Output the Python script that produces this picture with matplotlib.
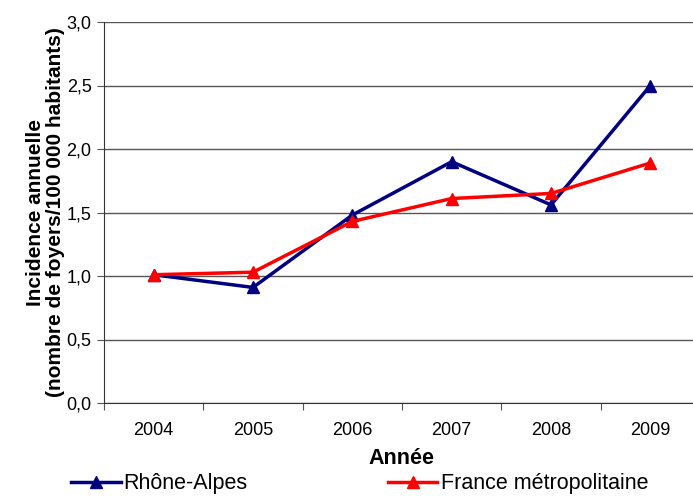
import numpy as np
import matplotlib.pyplot as plt

plt.rcParams['font.family'] = ['Liberation Sans', 'DejaVu Sans']

years = ['2004', '2005', '2006', '2007', '2008', '2009']
rhone_alpes = [1.01, 0.91, 1.48, 1.90, 1.56, 2.50]
france = [1.01, 1.03, 1.43, 1.61, 1.65, 1.89]

fig = plt.figure(figsize=(6.93, 4.96), dpi=100)
ax = fig.add_axes([104/693, 1 - 403/496, 596/693, 381/496])

x = np.arange(len(years))
ax.plot(x, rhone_alpes, color='#000080', lw=2.5, marker='^', ms=8, label='Rhône-Alpes', zorder=3)
ax.plot(x, france, color='#ff0000', lw=2.5, marker='^', ms=8, label='France métropolitaine', zorder=4)

ax.set_xlim(-0.5, 5.5)
ax.set_ylim(0, 3.0)
yt = np.arange(0, 3.01, 0.5)
ax.set_yticks(yt)
ax.set_yticklabels([f'{v:.1f}'.replace('.', ',') for v in yt], fontsize=13)
ax.set_xticks(np.arange(-0.5, 5.6, 1))
ax.set_xticklabels([])
ax.set_xticks(x, minor=True)
ax.set_xticklabels(years, minor=True, fontsize=13)
ax.tick_params(axis='x', which='minor', length=0, pad=14)
ax.tick_params(axis='x', which='major', length=5, color='#555555')
ax.tick_params(axis='y', length=5, color='#555555', pad=4)
ax.yaxis.grid(True, color='#555555', lw=1)
ax.set_axisbelow(True)
for s in ['top', 'right']:
    ax.spines[s].set_visible(False)
ax.spines['left'].set_color('#333333')
ax.spines['bottom'].set_color('#333333')

ax.set_ylabel('Incidence annuelle\n(nombre de foyers/100 000 habitants)',
              fontsize=15, fontweight='bold', labelpad=1, linespacing=1.05)
fig.text(401/693, 1 - 459/496, 'Année', fontsize=15.5, fontweight='bold',
         ha='center', va='center')

fig.legend(loc='center left', bbox_to_anchor=(71/693, 1 - 484/496), ncol=2,
           frameon=False, fontsize=15.5, handlelength=2.3, handletextpad=0.15,
           columnspacing=6.5, borderaxespad=0, borderpad=0)

fig.savefig('out.png', dpi=100)
